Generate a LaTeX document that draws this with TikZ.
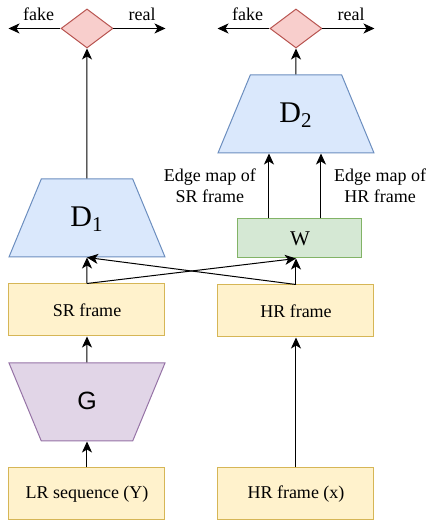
\documentclass[tikz,border=0pt]{standalone}
\usepackage{fontspec}
\setmainfont{Liberation Serif}
\newfontfamily\helv{Liberation Sans}
\usetikzlibrary{positioning,shapes.geometric,arrows.meta}

\definecolor{yfill}{HTML}{FFF2CC}
\definecolor{yline}{HTML}{D6B656}
\definecolor{bfill}{HTML}{DAE8FC}
\definecolor{bline}{HTML}{6C8EBF}
\definecolor{gfill}{HTML}{D5E8D4}
\definecolor{gline}{HTML}{82B366}
\definecolor{pfill}{HTML}{E1D5E7}
\definecolor{pline}{HTML}{9673A6}
\definecolor{rfill}{HTML}{F8CECC}
\definecolor{rline}{HTML}{B85450}

\begin{document}
\begin{tikzpicture}[->, >={Stealth[length=5.5pt,width=5pt,inset=1.5pt]},
    line width=0.5pt, node distance=13pt and 26pt,
    font=\fontsize{9pt}{10.35pt}\selectfont]
        \tikzset{FrameStyle/.style={draw=yline, fill=yfill, minimum width=78pt,
            minimum height=26pt, inner sep=0pt}}
        % the natural height must already be 39pt, or the slope is lost
        \tikzset{NetStyle/.style={trapezium, trapezium left angle=67.5,
            trapezium right angle=67.5, trapezium stretches body,
            text height=11pt, text depth=2pt, inner xsep=0pt, inner ysep=13pt,
            minimum width=78pt, minimum height=39pt,
            draw=bline, fill=bfill, font=\fontsize{15pt}{18pt}\selectfont}}
        \tikzset{DecisionStyle/.style={diamond, draw=rline, fill=rfill,
            minimum width=26pt, minimum height=19.5pt, inner sep=0pt}}

        \useasboundingbox (-43.5pt,-13.5pt) rectangle (169.5pt,247pt);

        % inputs and generator
        \node[FrameStyle] (lr) at (0,0) {LR sequence (Y)};
        \node[FrameStyle, right=of lr] (hrx) {HR frame (x)};
        \node[NetStyle, shape border rotate=180, draw=pline, fill=pfill,
            text height=10.5pt, text depth=2.5pt,
            font=\helv\fontsize{12.5pt}{15pt}\selectfont, above=of lr] (g) {G};
        \node[FrameStyle, above=of g] (sr) {SR frame};
        \node[FrameStyle, above=65pt of hrx] (hr) {HR frame};

        \draw (lr) -- (g);
        \draw (g) -- (sr);
        \draw (hrx) -- (hr);

        % discriminators
        \node[NetStyle, above=of sr] (d1) {D\textsubscript{1}};
        \node[FrameStyle, above=of hr, xshift=2pt, draw=gline, fill=gfill,
            minimum width=62pt, minimum height=19.5pt,
            font=\fontsize{10.5pt}{12pt}\selectfont] (w) {W};
        \node[NetStyle, above=32.5pt of w, xshift=-2pt] (d2) {D\textsubscript{2}};

        \draw (sr) -- (d1);
        \draw (sr.north) -- (w.south -| hr.north);
        \draw (hr.north) -- (d1.south);
        \draw (hr) -- (w.south -| hr.north);
        \draw ([xshift=-15.5pt]w.north) -- node[midway, left=3pt, align=center]
            {Edge map of\\SR frame} ([xshift=-15.5pt]w.north |- d2.south);
        \draw ([xshift=10.5pt]w.north) -- node[midway, right=3pt, align=center]
            {Edge map of\\HR frame} ([xshift=10.5pt]w.north |- d2.south);

        % decisions
        \node[DecisionStyle, above=65pt of d1] (dec1) {};
        \node[DecisionStyle, above=of d2] (dec2) {};
        \coordinate[left=26pt of dec1.west] (fake1);
        \coordinate[right=26pt of dec1.east] (real1);
        \coordinate[left=26pt of dec2.west] (fake2);
        \coordinate[right=26pt of dec2.east] (real2);

        \draw (d1) -- (dec1);
        \draw (d2) -- (dec2);
        \draw (dec1.west) -- node[pos=0.42, above=0.5pt] {fake} (fake1);
        \draw (dec1.east) -- node[pos=0.55, above=0.5pt] {real} (real1);
        \draw (dec2.west) -- node[pos=0.42, above=0.5pt] {fake} (fake2);
        \draw (dec2.east) -- node[pos=0.55, above=0.5pt] {real} (real2);
      \end{tikzpicture}
\end{document}
